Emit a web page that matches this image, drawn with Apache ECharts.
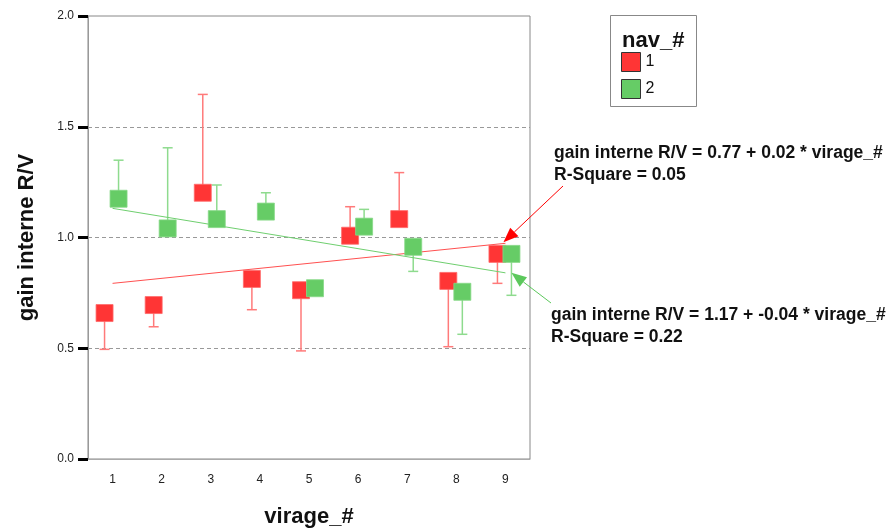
<!DOCTYPE html>
<html>
<head>
<meta charset="utf-8">
<script src="https://cdn.jsdelivr.net/npm/echarts@6/dist/echarts.min.js"></script>
<style>
  html, body { margin: 0; padding: 0; background: #fff; }
  #chart { width: 887px; height: 529px; }
</style>
</head>
<body>
<div id="chart"></div>
<script>
// Virage categories on the x axis
const virage = ['1', '2', '3', '4', '5', '6', '7', '8', '9'];

// nav_# = 1 : mean gain and the end of its error bar
const nav1Mean = [0.659, 0.695, 1.202, 0.813, 0.762, 1.008, 1.083, 0.804, 0.926];
const nav1Bar  = [0.495, 0.597, 1.646, 0.674, 0.488, 1.139, 1.293, 0.507, 0.793];

// nav_# = 2 : mean gain and the end of its error bar (none at virage 5)
const nav2Mean = [1.175, 1.041, 1.083, 1.117, 0.771, 1.049, 0.958, 0.755, 0.926];
const nav2Bar  = [1.349, 1.405, 1.237, 1.202, null, 1.127, 0.847, 0.563, 0.739];

// Linear fits: gain = a + b * virage
const fit1 = { a: 0.7704, b: 0.0226 };
const fit2 = { a: 1.168, b: -0.0364 };

const fitText1 = ['gain interne R/V = 0.77 + 0.02 * virage_#', 'R-Square = 0.05'];
const fitText2 = ['gain interne R/V = 1.17 + -0.04 * virage_#', 'R-Square = 0.22'];

const yTicks = { min: 0, max: 2, interval: 0.5 };

const RED = '#ff3535', RED_LIGHT = '#ff7a7a', RED_LINE = '#ff5050';
const GREEN = '#66cc66', GREEN_LIGHT = '#8edb8e', GREEN_LINE = '#6fcf6f';
const FONT = 'Liberation Sans, Arial, sans-serif';

const chart = echarts.init(document.getElementById('chart'), null, { renderer: 'canvas' });

function fitValue(f, x) { return f.a + f.b * x; }

function barData(means, ends) {
  const out = [];
  means.forEach((m, i) => { if (ends[i] != null) out.push([i, m, ends[i]]); });
  return out;
}

function errorBarSeries(data, color, dx) {
  return {
    type: 'custom',
    z: 1,
    silent: true,
    encode: { x: 0, y: [1, 2] },
    data: data,
    renderItem: function (params, api) {
      const i = api.value(0);
      const p0 = api.coord([i, api.value(1)]);
      const p1 = api.coord([i, api.value(2)]);
      const x = p0[0] + dx;
      const style = { stroke: color, lineWidth: 1.5 };
      return {
        type: 'group',
        children: [
          { type: 'line', shape: { x1: x, y1: p0[1], x2: x, y2: p1[1] }, style: style },
          { type: 'line', shape: { x1: x - 5, y1: p1[1], x2: x + 5, y2: p1[1] }, style: style }
        ]
      };
    }
  };
}

const option = {
  animation: false,
  backgroundColor: '#fff',
  textStyle: { fontFamily: FONT },
  grid: {
    left: 88, top: 16, right: 357, bottom: 70,
    containLabel: false, outerBoundsMode: 'none',
    show: true, borderColor: '#888', borderWidth: 1
  },
  legend: {
    data: ['1', '2'],
    orient: 'vertical',
    left: 616,
    top: 47,
    itemWidth: 19,
    itemHeight: 19,
    itemGap: 7,
    icon: 'rect',
    selectedMode: false,
    itemStyle: { borderColor: '#333', borderWidth: 1 },
    textStyle: { fontSize: 16, color: '#111', fontFamily: FONT }
  },
  xAxis: {
    type: 'category',
    data: virage,
    boundaryGap: true,
    name: 'virage_#',
    nameLocation: 'middle',
    nameGap: 47,
    nameTextStyle: { fontSize: 22, fontWeight: 'bold', color: '#111', fontFamily: FONT },
    axisLine: { lineStyle: { color: '#aaa', width: 1 } },
    axisTick: { alignWithLabel: true, length: 7, lineStyle: { color: '#000', width: 3 } },
    axisLabel: { margin: 15, fontSize: 12, color: '#222', fontFamily: FONT },
    splitLine: { show: false }
  },
  yAxis: {
    type: 'value',
    min: yTicks.min,
    max: yTicks.max,
    interval: yTicks.interval,
    name: 'gain interne R/V',
    nameLocation: 'middle',
    nameGap: 50,
    nameTextStyle: { fontSize: 22, fontWeight: 'bold', color: '#111', fontFamily: FONT },
    axisLine: { show: true, lineStyle: { color: '#999', width: 1 } },
    axisTick: { show: true, length: 10, lineStyle: { color: '#000', width: 3 } },
    axisLabel: { margin: 14, fontSize: 12, color: '#222', fontFamily: FONT, formatter: v => v.toFixed(1) },
    splitLine: { show: true, showMinLine: false, showMaxLine: false, lineStyle: { color: '#999', type: [4, 3], width: 1 } }
  },
  series: [
    errorBarSeries(barData(nav1Mean, nav1Bar), RED_LIGHT, -8),
    errorBarSeries(barData(nav2Mean, nav2Bar), GREEN_LIGHT, 6),
    {
      type: 'line',
      z: 2,
      silent: true,
      symbol: 'none',
      data: [[virage[0], fitValue(fit1, 1)], [virage[8], fitValue(fit1, 9)]],
      lineStyle: { color: RED_LINE, width: 1 }
    },
    {
      type: 'line',
      z: 2,
      silent: true,
      symbol: 'none',
      data: [[virage[0], fitValue(fit2, 1)], [virage[8], fitValue(fit2, 9)]],
      lineStyle: { color: GREEN_LINE, width: 1 }
    },
    {
      name: '1',
      type: 'scatter',
      z: 3,
      symbol: 'rect',
      symbolSize: 17,
      symbolOffset: [-8, 0],
      data: nav1Mean.map((v, i) => [virage[i], v]),
      itemStyle: { color: RED, opacity: 1, borderColor: '#ff6a6a', borderWidth: 0.8 }
    },
    {
      name: '2',
      type: 'scatter',
      z: 4,
      symbol: 'rect',
      symbolSize: 17,
      symbolOffset: [6, 0],
      data: nav2Mean.map((v, i) => [virage[i], v]),
      itemStyle: { color: GREEN, opacity: 1, borderColor: '#86d886', borderWidth: 0.8 }
    }
  ]
};

chart.setOption(option);

// Annotation arrows pointing at the end of each fit line
function arrow(from, to, color) {
  const dx = to[0] - from[0], dy = to[1] - from[1];
  const len = Math.sqrt(dx * dx + dy * dy);
  const ux = dx / len, uy = dy / len;
  const headLen = 15, headHalf = 6;
  const bx = to[0] - ux * headLen, by = to[1] - uy * headLen;
  return [
    { type: 'line', z: 10, shape: { x1: from[0], y1: from[1], x2: bx, y2: by }, style: { stroke: color, lineWidth: 1 } },
    {
      type: 'polygon', z: 10,
      shape: { points: [[to[0], to[1]], [bx - uy * headHalf, by + ux * headHalf], [bx + uy * headHalf, by - ux * headHalf]] },
      style: { fill: color }
    }
  ];
}

const end1 = chart.convertToPixel({ gridIndex: 0 }, [8, fitValue(fit1, 9)]);
const end2 = chart.convertToPixel({ gridIndex: 0 }, [8, fitValue(fit2, 9)]);

const annStyle = { fill: '#111', font: 'bold 17.5px ' + FONT, lineHeight: 22 };

chart.setOption({
  graphic: [
    // legend frame and title
    { type: 'rect', z: 0, shape: { x: 610.5, y: 15.5, width: 86, height: 91 }, style: { fill: '#fff', stroke: '#888', lineWidth: 1 } },
    { type: 'text', z: 5, x: 622, y: 41, style: { text: 'nav_#', fill: '#111', font: 'bold 22px ' + FONT, verticalAlign: 'middle' } },
    // fit labels
    { type: 'text', z: 5, x: 554, y: 142, style: Object.assign({ text: fitText1.join('\n') }, annStyle) },
    { type: 'text', z: 5, x: 551, y: 304, style: Object.assign({ text: fitText2.join('\n') }, annStyle) }
  ].concat(
    arrow([563, 186], [end1[0] - 2, end1[1] - 1], '#ff0000'),
    arrow([551, 303], [end2[0] + 6, end2[1]], '#5cc85c')
  )
});
</script>
</body>
</html>
